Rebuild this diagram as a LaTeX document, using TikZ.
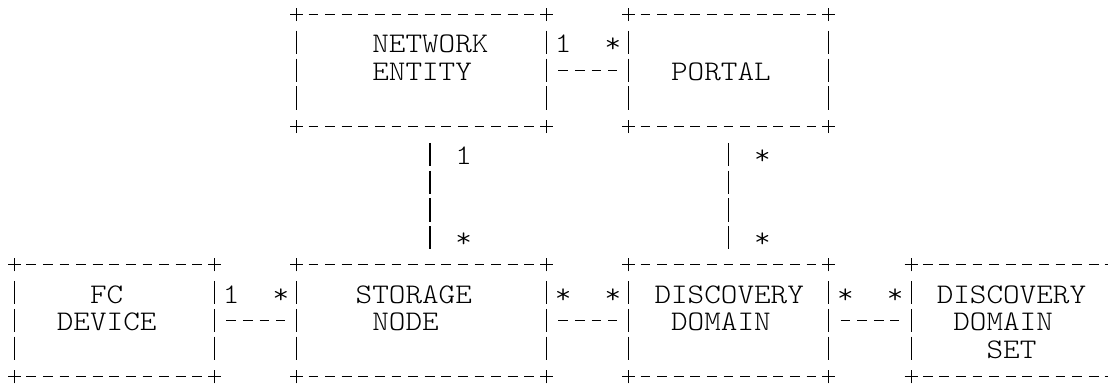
\documentclass[tikz,border=0pt]{standalone}
\usepackage{fontspec}
\newfontfamily\asciifont[FakeStretch=1.113]{lmmonolt10-regular.otf}
\begin{document}
\begin{tikzpicture}[x=8.3pt,y=-13.9pt,
  box/.style={rectangle,inner sep=0pt,minimum height=55.6pt},
  hline/.style={line width=0.55pt,dash pattern=on 4.9pt off 3.4pt,
    shorten <=5.85pt,shorten >=5.85pt},
  vline/.style={line width=0.55pt,dash pattern=on 11.65pt off 2.25pt,
    shorten <=8.075pt,shorten >=8.075pt},
  crs/.style={line width=0.55pt},
  txt/.style={font=\fontsize{14.2pt}{13.9pt}\asciifont,inner sep=0pt,
    anchor=base west,yshift=-5pt}]

\useasboundingbox (-0.9036,-0.5396) rectangle (65.84,13.24);

% boxes (one column = 8.3pt, one row = 13.9pt)
\node[box,minimum width=124.5pt] (entity) at (24.5,2) {};
\node[box,minimum width=99.6pt] (portal) at (43,2) {};
\node[box,minimum width=99.6pt] (fcdev) at (6,11) {};
\node[box,minimum width=124.5pt] (stnode) at (24.5,11) {};
\node[box,minimum width=99.6pt] (dd) at (43,11) {};
\node[box,minimum width=99.6pt] (ddset) at (60,11) {};

\foreach \b in {entity,portal,fcdev,stnode,dd,ddset}{
  \draw[hline] (\b.north west) -- (\b.north east);
  \draw[hline] (\b.south west) -- (\b.south east);
  \draw[vline] (\b.north west) -- (\b.south west);
  \draw[vline] (\b.north east) -- (\b.south east);
  \foreach \k in {north west,north east,south west,south east}
    \draw[crs] (\b.\k) +(-3.25pt,0) -- +(3.25pt,0) +(0,-3.3pt) -- +(0,3.3pt);
}

% connectors
\draw[hline] (entity.east) -- (portal.west);
\draw[hline] (fcdev.east) -- (stnode.west);
\draw[hline] (stnode.east) -- (dd.west);
\draw[hline] (dd.east) -- (ddset.west);
\draw[vline] ([xshift=4.15pt]entity.south) -- ([xshift=4.15pt]stnode.north);
\draw[vline] (portal.south) -- (dd.north);

% box texts
\node[txt] (entity-a) at (21.5,1) {NETWORK};
\node[txt] (entity-b) at (21.5,2) {ENTITY};
\node[txt] (portal-a) at (39.5,2) {PORTAL};
\node[txt] (fcdev-a) at (4.5,10) {FC};
\node[txt] (fcdev-b) at (2.5,11) {DEVICE};
\node[txt] (stnode-a) at (20.5,10) {STORAGE};
\node[txt] (stnode-b) at (21.5,11) {NODE};
\node[txt] (dd-a) at (38.5,10) {DISCOVERY};
\node[txt] (dd-b) at (39.5,11) {DOMAIN};
\node[txt] (ddset-a) at (55.5,10) {DISCOVERY};
\node[txt] (ddset-b) at (56.5,11) {DOMAIN};
\node[txt] (ddset-c) at (58.5,12) {SET};

% multiplicities
\node[txt] (m1) at (32.5,1) {1};
\node[txt] (m2) at (35.5,1) {*};
\node[txt] (m3) at (26.5,5) {1};
\node[txt] (m4) at (26.5,8) {*};
\node[txt] (m5) at (44.5,5) {*};
\node[txt] (m6) at (44.5,8) {*};
\node[txt] (m7) at (12.5,10) {1};
\node[txt] (m8) at (15.5,10) {*};
\node[txt] (m9) at (32.5,10) {*};
\node[txt] (m10) at (35.5,10) {*};
\node[txt] (m11) at (49.5,10) {*};
\node[txt] (m12) at (52.5,10) {*};
\end{tikzpicture}
\end{document}
